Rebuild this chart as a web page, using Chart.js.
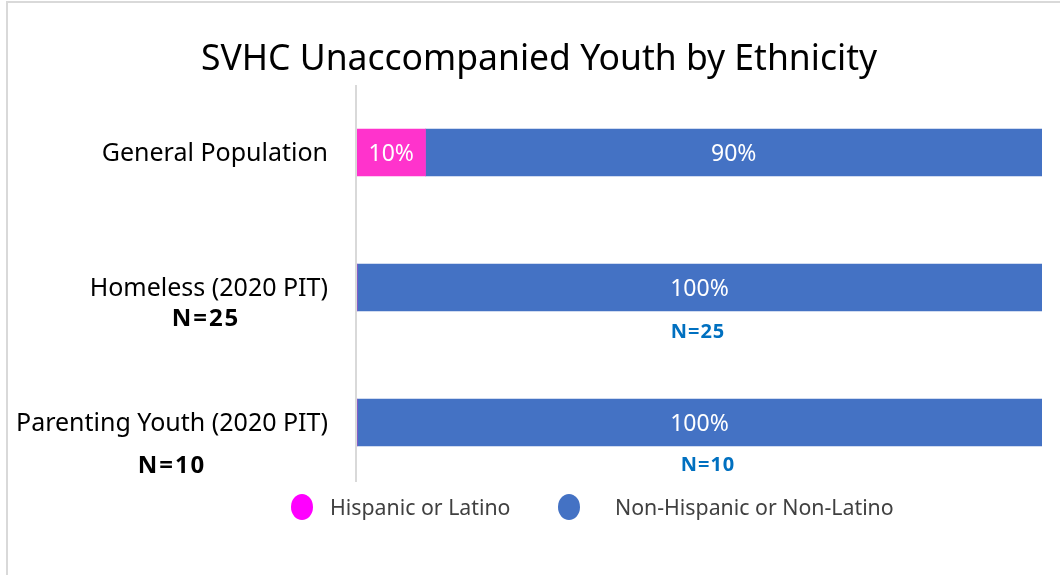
<!DOCTYPE html>
<html>
<head>
<meta charset="utf-8">
<script src="https://cdn.jsdelivr.net/npm/chart.js@4/dist/chart.umd.min.js"></script>
<style>
  html, body { margin: 0; padding: 0; background: #fff; }
  #wrap { width: 1060px; height: 575px; position: relative; }
</style>
</head>
<body>
<div id="wrap"><canvas id="c" width="1060" height="575"></canvas></div>
<script>
const title = 'SVHC Unaccompanied Youth by Ethnicity';
const categories = ['General Population', 'Homeless (2020 PIT)', 'Parenting Youth (2020 PIT)'];
const hispanic = [10, 0, 0];
const nonHispanic = [90, 100, 100];
const seriesNames = ['Hispanic or Latino', 'Non-Hispanic or Non-Latino'];
const nLabels = ['', 'N=25', 'N=10'];

const FONT = '"Noto Sans", "Open Sans", sans-serif';
const PINK = '#FF33CC', PINK_LEGEND = '#FF00FF', BLUE = '#4472C4';

const decor = {
  id: 'decor',
  beforeDraw(chart) {
    const ctx = chart.ctx;
    ctx.save();
    ctx.fillStyle = '#fff';
    ctx.fillRect(0, 0, chart.width, chart.height);
    ctx.strokeStyle = '#D9D9D9';
    ctx.lineWidth = 2;
    ctx.beginPath();
    ctx.moveTo(7, 600); ctx.lineTo(7, 2); ctx.lineTo(1100, 2);
    ctx.stroke();
    ctx.restore();
  },
  afterDatasetsDraw(chart) {
    const ctx = chart.ctx;
    const ca = chart.chartArea;
    const ys = chart.scales.y;
    ctx.save();
    ctx.strokeStyle = '#D9D9D9';
    ctx.lineWidth = 2;
    ctx.beginPath();
    ctx.moveTo(ca.left - 1, ca.top);
    ctx.lineTo(ca.left - 1, ca.bottom - 8);
    ctx.stroke();

    ctx.fillStyle = '#000';
    ctx.font = '35.5px ' + FONT;
    ctx.textAlign = 'center';
    ctx.textBaseline = 'middle';
    ctx.fillText(title, 539, 60);

    ctx.font = '25px ' + FONT;
    ctx.textAlign = 'right';
    categories.forEach((c, i) => {
      ctx.fillText(c, 328, ys.getPixelForValue(i) + 1);
    });

    ctx.font = 'bold 24px ' + FONT;
    ctx.textAlign = 'center';
    ctx.letterSpacing = '2px';
    const nBlackX = [0, 206, 172];
    const nBlackDy = [0, 32, 44];
    nLabels.forEach((t, i) => {
      if (t) ctx.fillText(t, nBlackX[i], ys.getPixelForValue(i) + nBlackDy[i]);
    });
    ctx.fillStyle = '#0070C0';
    ctx.font = 'bold 20px ' + FONT;
    ctx.letterSpacing = '1px';
    const nBlueX = [0, 698, 708];
    const nBlueDy = [0, 45, 43];
    nLabels.forEach((t, i) => {
      if (t) ctx.fillText(t, nBlueX[i], ys.getPixelForValue(i) + nBlueDy[i]);
    });
    ctx.letterSpacing = '0px';

    ctx.fillStyle = '#fff';
    ctx.font = '23px ' + FONT;
    chart.data.datasets.forEach((ds, di) => {
      const meta = chart.getDatasetMeta(di);
      meta.data.forEach((el, i) => {
        const v = ds.data[i];
        if (!v) return;
        const cx = (el.x + el.base) / 2;
        ctx.fillText(v + '%', cx, el.y + 2);
      });
    });

    const legendItems = [
      { text: seriesNames[0], color: PINK_LEGEND, cx: 302, tx: 330 },
      { text: seriesNames[1], color: BLUE, cx: 569, tx: 615 }
    ];
    ctx.font = '21.3px ' + FONT;
    ctx.textAlign = 'left';
    legendItems.forEach(it => {
      ctx.fillStyle = it.color;
      ctx.beginPath();
      ctx.ellipse(it.cx, 507, 11, 13, 0, 0, Math.PI * 2);
      ctx.fill();
      ctx.fillStyle = '#404040';
      ctx.fillText(it.text, it.tx, 508.5);
    });
    ctx.restore();
  }
};

new Chart(document.getElementById('c'), {
  type: 'bar',
  data: {
    labels: categories,
    datasets: [
      { label: seriesNames[0], data: hispanic, backgroundColor: PINK, barThickness: 47 },
      { label: seriesNames[1], data: nonHispanic, backgroundColor: BLUE, barThickness: 47 }
    ]
  },
  options: {
    indexAxis: 'y',
    responsive: false,
    animation: false,
    devicePixelRatio: 1,
    layout: { padding: { left: 357, right: 18, top: 85, bottom: 85 } },
    scales: {
      x: { stacked: true, min: 0, max: 100, display: false },
      y: { stacked: true, display: false }
    },
    plugins: {
      legend: { display: false },
      title: { display: false },
      tooltip: { enabled: false }
    }
  },
  plugins: [decor]
});
</script>
</body>
</html>
